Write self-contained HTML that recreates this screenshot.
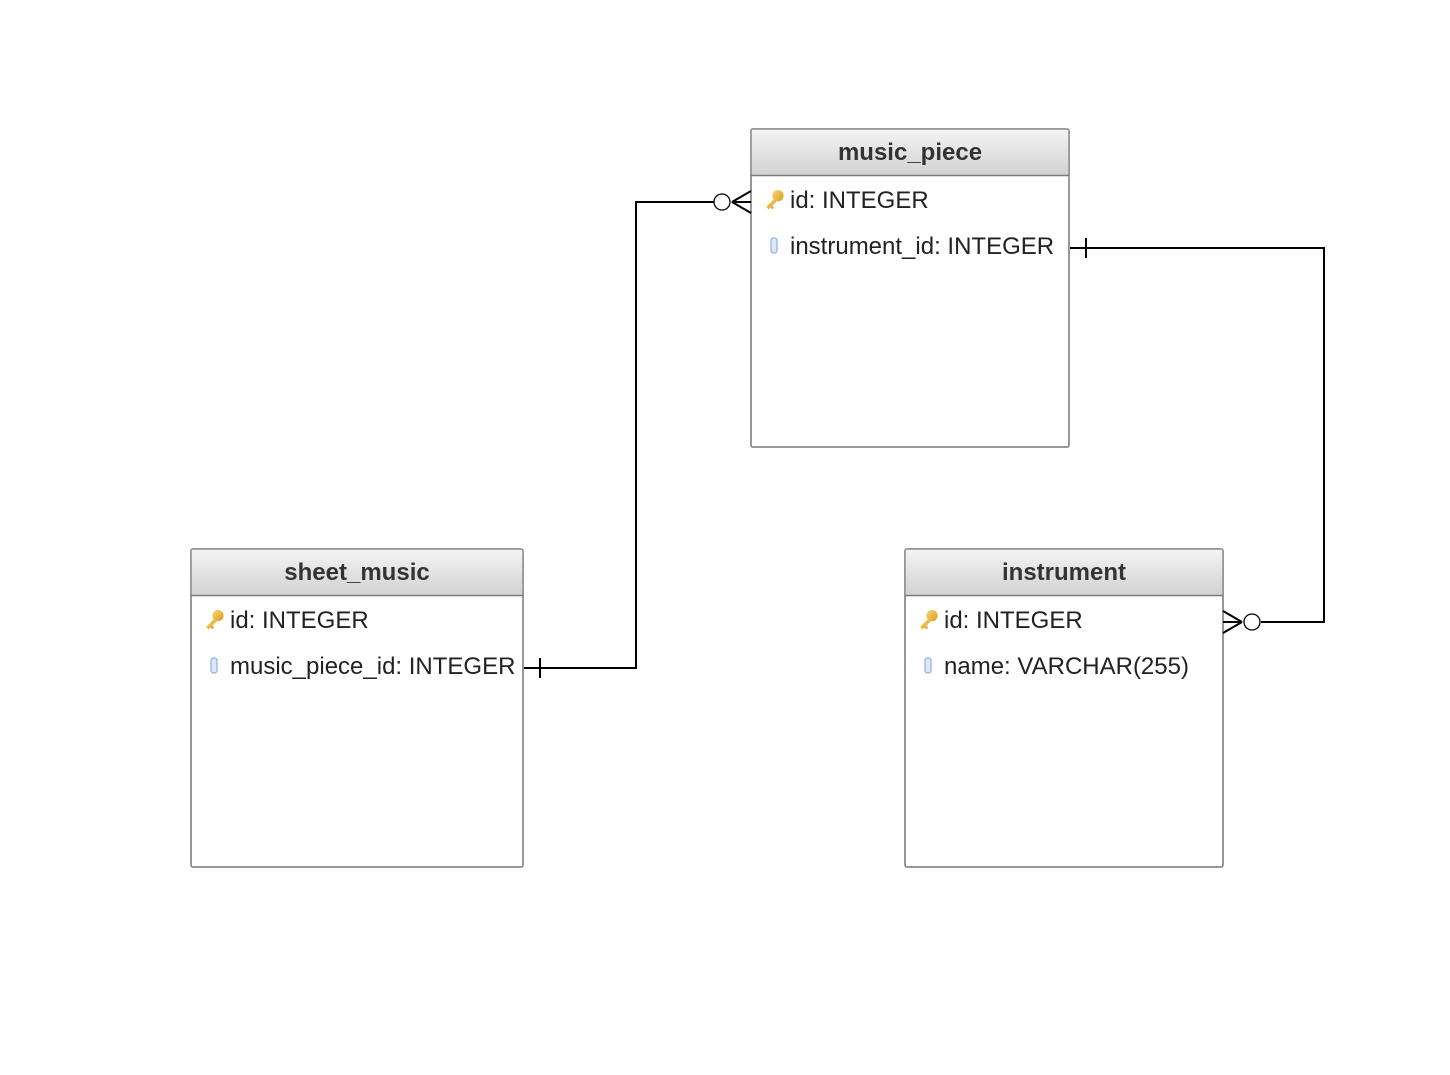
<!DOCTYPE html>
<html><head><style>
html,body{margin:0;padding:0;background:#fff;}
svg text{font-family:"Liberation Sans",sans-serif;}
</style></head><body>
<svg width="1450" height="1070" xmlns="http://www.w3.org/2000/svg">
<defs>
<linearGradient id="hg" x1="0" y1="0" x2="0" y2="1">
<stop offset="0" stop-color="#f4f4f4"/><stop offset="1" stop-color="#d2d2d2"/>
</linearGradient>
<linearGradient id="kg" x1="0" y1="0" x2="1" y2="1">
<stop offset="0" stop-color="#f8d870"/><stop offset="1" stop-color="#d99a20"/>
</linearGradient>
<g id="key" transform="scale(1.25)">
<circle cx="4" cy="-3.5" r="4.5" fill="url(#kg)"/>
<path d="M1.5 -1.5 L-5.5 5.5 L-3.5 7.5 L-2 6 L-0.5 7.5 L1 6 L-0.5 4.5 L4.5 -0.5 Z" fill="url(#kg)"/>
</g>
<g id="col">
<rect x="-3" y="-8" width="6" height="15" rx="2.5" fill="#dce8f8" stroke="#8fb0e0" stroke-width="1.2"/>
</g>
</defs>

<!-- music_piece -->
<rect x="751" y="129" width="318" height="318" rx="2" fill="#fff" stroke="#777" stroke-width="1.5"/>
<rect x="751.75" y="129.75" width="316.5" height="45" fill="url(#hg)"/>
<line x1="751" y1="175.5" x2="1069" y2="175.5" stroke="#777" stroke-width="1.5"/>
<text x="910" y="160" text-anchor="middle" font-size="24" font-weight="bold" fill="#333">music_piece</text>
<use href="#key" x="773" y="200"/>
<text x="790" y="208" font-size="24" fill="#222">id: INTEGER</text>
<use href="#col" x="774" y="246"/>
<text x="790" y="254" font-size="24" fill="#222">instrument_id: INTEGER</text>

<!-- sheet_music -->
<rect x="191" y="549" width="332" height="318" rx="2" fill="#fff" stroke="#777" stroke-width="1.5"/>
<rect x="191.75" y="549.75" width="330.5" height="45" fill="url(#hg)"/>
<line x1="191" y1="595.5" x2="523" y2="595.5" stroke="#777" stroke-width="1.5"/>
<text x="357" y="580" text-anchor="middle" font-size="24" font-weight="bold" fill="#333">sheet_music</text>
<use href="#key" x="213" y="620"/>
<text x="230" y="628" font-size="24" fill="#222">id: INTEGER</text>
<use href="#col" x="214" y="666"/>
<text x="230" y="674" font-size="24" fill="#222">music_piece_id: INTEGER</text>

<!-- instrument -->
<rect x="905" y="549" width="318" height="318" rx="2" fill="#fff" stroke="#777" stroke-width="1.5"/>
<rect x="905.75" y="549.75" width="316.5" height="45" fill="url(#hg)"/>
<line x1="905" y1="595.5" x2="1223" y2="595.5" stroke="#777" stroke-width="1.5"/>
<text x="1064" y="580" text-anchor="middle" font-size="24" font-weight="bold" fill="#333">instrument</text>
<use href="#key" x="927" y="620"/>
<text x="944" y="628" font-size="24" fill="#222">id: INTEGER</text>
<use href="#col" x="928" y="666"/>
<text x="944" y="674" font-size="24" fill="#222">name: VARCHAR(255)</text>

<g fill="none" stroke="#000" stroke-width="2">
<polyline points="524,668 636,668 636,202 714,202"/>
<line x1="540" y1="658" x2="540" y2="678"/>
<line x1="732" y1="202" x2="751" y2="191"/>
<line x1="732" y1="202" x2="751" y2="213"/>
<line x1="732" y1="202" x2="751" y2="202"/>
</g>
<circle cx="722" cy="202" r="8" fill="#fff" stroke="#000" stroke-width="1.3"/>

<g fill="none" stroke="#000" stroke-width="2">
<polyline points="1070,248 1324,248 1324,622 1261,622"/>
<line x1="1086" y1="238" x2="1086" y2="258"/>
<line x1="1242" y1="622" x2="1223" y2="611"/>
<line x1="1242" y1="622" x2="1223" y2="633"/>
<line x1="1242" y1="622" x2="1223" y2="622"/>
</g>
<circle cx="1252" cy="622" r="8" fill="#fff" stroke="#000" stroke-width="1.3"/>
</svg>
</body></html>
